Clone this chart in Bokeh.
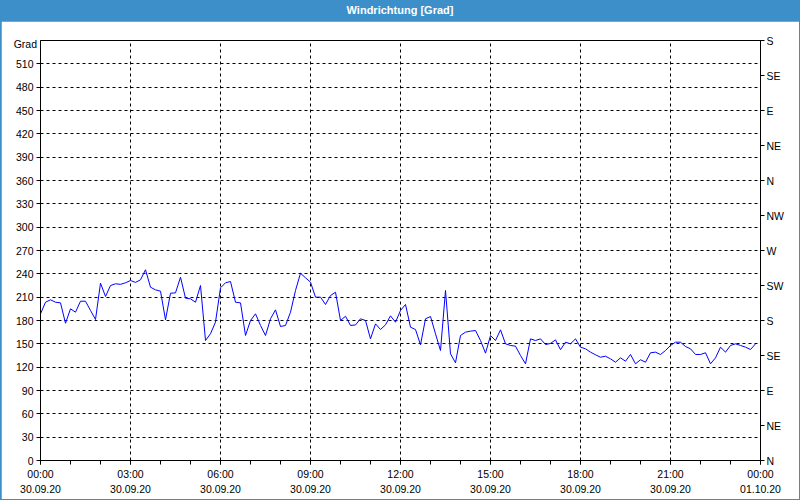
import pandas as pd
from bokeh.plotting import figure
from bokeh.models import Range1d, LinearAxis, FixedTicker, DatetimeTickFormatter, Div
from bokeh.layouts import column
from bokeh.embed import file_html
from bokeh.resources import INLINE

# ---- data ----
title_text = "Windrichtung [Grad]"
start = pd.Timestamp("2020-09-30 00:00")
end = pd.Timestamp("2020-10-01 00:00")
times = pd.date_range(start, periods=144, freq="10min")
direction = [
    188.6, 203.5, 206.6, 203.5, 202.7, 176.5, 195.0, 190.7, 204.8, 204.8, 192.9, 181.3,
    228.0, 210.9, 225.0, 227.2, 226.5, 228.5, 231.4, 229.0, 232.3, 245.2, 222.8, 219.4,
    217.7, 180.9, 215.1, 215.5, 235.7, 208.7, 207.9, 203.5, 225.0, 154.3, 163.0, 178.0,
    222.0, 228.5, 230.1, 203.5, 202.7, 160.7, 180.0, 188.6, 173.6, 160.7, 182.2, 193.7,
    172.3, 173.6, 190.7, 218.6, 240.8, 234.9, 229.3, 210.0, 210.0, 200.6, 212.1, 216.4,
    180.0, 185.5, 173.6, 174.3, 182.2, 180.0, 156.4, 175.7, 168.4, 174.4, 186.0, 177.8,
    192.9, 200.6, 171.4, 168.4, 148.7, 182.2, 185.1, 162.9, 141.4, 218.6, 137.2, 125.6,
    160.7, 165.0, 166.3, 167.1, 154.3, 138.0, 160.7, 154.3, 168.0, 150.0, 147.9, 147.0,
    135.0, 124.3, 156.4, 154.3, 156.4, 149.1, 150.5, 155.1, 142.5, 152.1, 150.0, 156.4,
    145.7, 143.6, 139.3, 135.9, 132.8, 134.1, 130.7, 126.4, 132.0, 127.7, 136.3, 124.3,
    129.5, 126.4, 138.5, 139.3, 136.3, 141.4, 147.9, 152.1, 152.1, 146.6, 143.6, 136.3,
    136.3, 138.5, 124.3, 132.0, 145.7, 139.3, 147.9, 150.0, 147.9, 145.7, 142.7, 150.0,
]
left_ticks = list(range(0, 540, 30))
right_ticks = list(range(0, 541, 45))
right_labels = ["N", "NE", "E", "SE", "S", "SW", "W", "NW", "N", "NE", "E", "SE", "S"]
major_times = pd.date_range(start, end, freq="3h")
minor_times = pd.date_range(start, end, freq="1h")
y_unit = "Grad"

FONT = "Liberation Sans"
FSIZE = "10.5px"
BLUE = "#3c8fc8"

def ms(ts):
    return [t.value / 1e6 for t in ts]

p = figure(
    x_axis_type="datetime",
    x_range=Range1d(start, end),
    y_range=Range1d(0, 540),
    frame_width=720, frame_height=420,
    min_border_left=39, min_border_right=39, min_border_top=19, min_border_bottom=39,
    output_backend="svg", toolbar_location=None,
    background_fill_color="white", border_fill_color="white",
)
p.outline_line_color = "black"
p.outline_line_width = 1

p.line(times, direction, line_color="#0000ff", line_width=1)

# x axis
xa = p.xaxis[0]
xa.ticker = FixedTicker(ticks=ms(major_times), minor_ticks=ms(minor_times))
fmt = "%H:%M\n%d.%m.%y"
xa.formatter = DatetimeTickFormatter(minutes=fmt, hourmin=fmt, hours=fmt, days=fmt)
xa.major_label_text_line_height = 1.3

# left axis
ya = p.yaxis[0]
ya.ticker = FixedTicker(ticks=left_ticks, minor_ticks=[])

# right axis
ra = LinearAxis(ticker=FixedTicker(ticks=right_ticks, minor_ticks=[]),
                major_label_overrides={t: l for t, l in zip(right_ticks, right_labels)})
p.add_layout(ra, "right")

for ax in [xa, ya, ra]:
    ax.axis_line_color = "black"
    ax.major_tick_line_color = "black"
    ax.minor_tick_line_color = "black"
    ax.major_tick_in = 0
    ax.major_tick_out = 4
    ax.minor_tick_in = 0
    ax.minor_tick_out = 4
    ax.major_label_text_font = FONT
    ax.major_label_text_font_size = FSIZE
    ax.major_label_text_color = "black"
    ax.major_label_standoff = 3
ra.major_label_standoff = 2

for g in [p.xgrid[0], p.ygrid[0]]:
    g.grid_line_color = "black"
    g.grid_line_dash = "3 3"
    g.grid_line_width = 1

unit_span = (f'<span style="position:absolute;left:0px;top:38px;width:36px;text-align:right;'
             f'font-weight:normal;color:black;font-family:{FONT};font-size:{FSIZE};'
             f'line-height:12px">{y_unit}</span>')
header = Div(text=title_text + unit_span, width=798, height=21,
             styles={"background-color": BLUE, "color": "white", "font-weight": "bold",
                     "font-family": FONT, "font-size": "11px", "text-align": "center",
                     "line-height": "21px", "margin": "0", "overflow": "visible",
                     "z-index": "10", "position": "relative"})

layout = column(header, p, spacing=0,
                styles={"background-color": BLUE, "padding": "0 1px 1px 1px"})
open("out.html", "w").write(file_html(layout, INLINE))
